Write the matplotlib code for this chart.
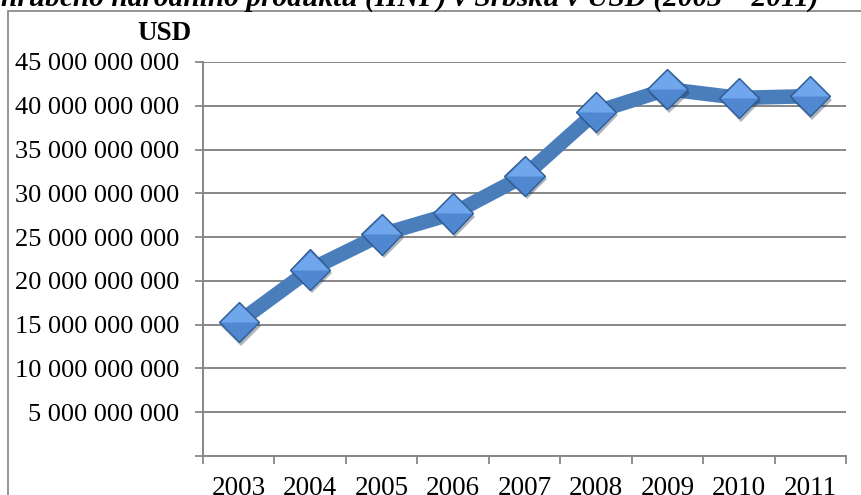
import matplotlib
matplotlib.use('Agg')
import matplotlib.pyplot as plt
import matplotlib.patheffects as pe
from matplotlib.patches import Rectangle
from matplotlib.ticker import FuncFormatter, FixedLocator
import numpy as np

years = ['2003', '2004', '2005', '2006', '2007', '2008', '2009', '2010', '2011']
gni = [15.3e9, 21.3e9, 25.3e9, 27.7e9, 32.0e9, 39.3e9, 41.9e9, 40.9e9, 41.1e9]
title = 'hrubého národního produktu (HNP) v Srbsku v USD (2003 – 2011)'
unit = 'USD'

plt.rcParams['font.family'] = ['Liberation Serif', 'DejaVu Serif']

fig = plt.figure(figsize=(8.61, 4.95), dpi=100)
W, H = 861.0, 495.0

# outer chart frame (runs off the right and bottom edges)
fig.add_artist(Rectangle((8/W, -0.1), 1.2, 1 - 11/H + 0.1, transform=fig.transFigure,
                         fill=False, edgecolor='#8c8c8c', linewidth=1.3))

# clipped title of the chart above
fig.text(410/W, 1 - 6/H, title, ha='center', va='baseline', fontsize=21.2,
         fontweight='bold', fontstyle='italic')

ax = fig.add_axes([203/W, 1 - 456/H, (846 - 203)/W, (456 - 62)/H])
x = np.arange(len(years))

grey = '#878787'
ax.set_ylim(0, 45e9)
ax.set_xlim(-0.5, len(years) - 0.5)
ax.set_yticks(np.arange(0, 45e9 + 1, 5e9))
ax.yaxis.set_major_formatter(FuncFormatter(
    lambda v, p: '' if v == 0 else '{:,.0f}'.format(v).replace(',', ' ')))
ax.yaxis.grid(True, color=grey, linewidth=1.4)
ax.set_axisbelow(True)

ax.set_xticks(x)
ax.set_xticklabels(years)
ax.xaxis.set_minor_locator(FixedLocator(np.arange(-0.5, len(years), 1.0)))
ax.tick_params(axis='x', which='major', length=0, pad=14.5, labelsize=19.5)
ax.tick_params(axis='x', which='minor', length=6, width=1.3, color=grey, direction='out')
ax.tick_params(axis='y', which='major', length=5.5, width=1.3, color=grey, pad=11.5, labelsize=19)

for s in ['top', 'right']:
    ax.spines[s].set_visible(False)
for s in ['left', 'bottom']:
    ax.spines[s].set_color(grey)
    ax.spines[s].set_linewidth(1.4)

ax.plot(x, gni, color='#4a7ebb', linewidth=10.5, solid_capstyle='butt', zorder=3)
ms = 20.5
ax.plot(x, gni, linestyle='none', marker='D', markersize=ms, markerfacecolor='#4f87d0',
        markeredgecolor='#2f5c94', markeredgewidth=1.0, zorder=4, clip_on=False,
        path_effects=[pe.SimplePatchShadow(offset=(1.5, -2.5), alpha=0.35), pe.Normal()])
top_half = [(-1, 0), (0, 1), (1, 0), (-1, 0)]
ax.plot(x, gni, linestyle='none', marker=top_half, markersize=ms * 1.414 * 0.92,
        markerfacecolor='#6fa6ec', markeredgewidth=0, zorder=5, clip_on=False)

fig.text(165/W, 1 - 33/H, unit, ha='center', va='center', fontsize=19.5, fontweight='bold')

fig.savefig('out.png', dpi=100)
